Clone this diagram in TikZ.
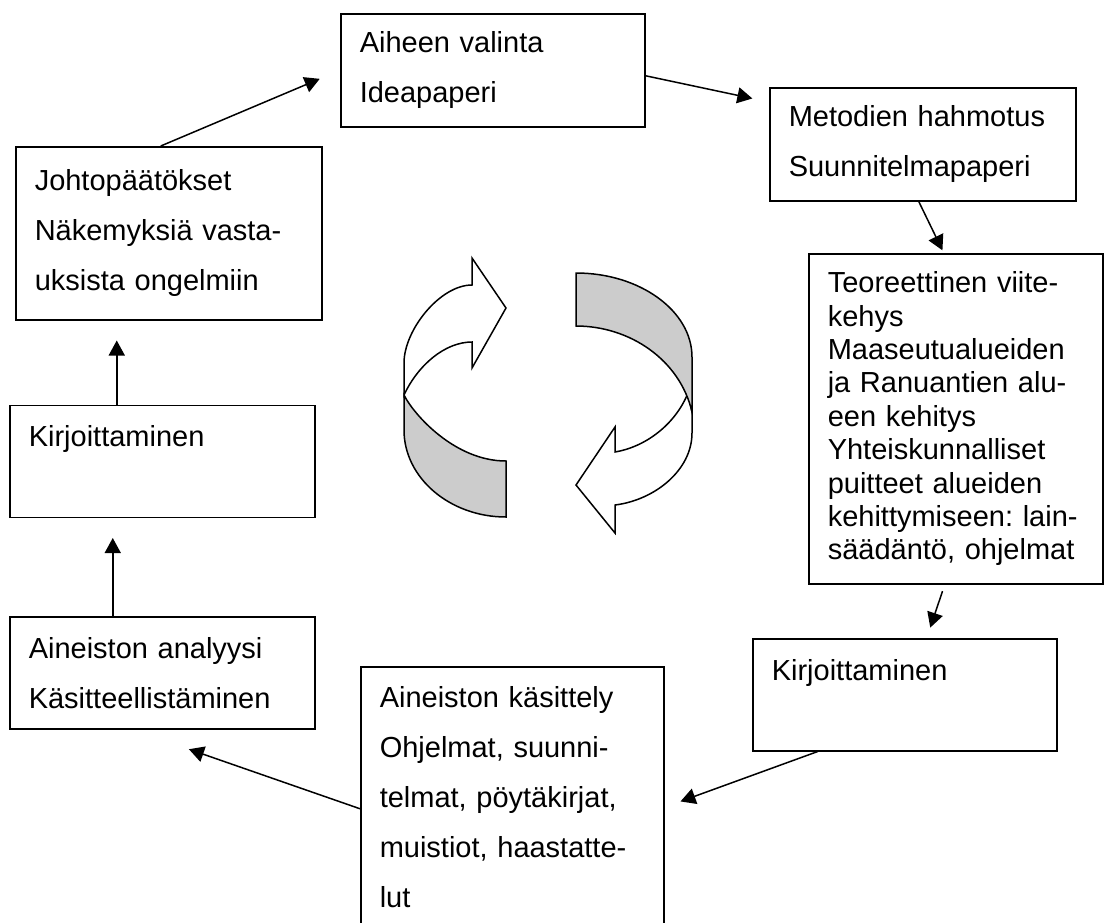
\documentclass[tikz,border=0pt]{standalone}
\usepackage{fontspec}
\setmainfont{Liberation Sans}
\usetikzlibrary{arrows.meta, positioning}
\frenchspacing

\begin{document}
\begin{tikzpicture}[
    x=1pt, y=-1pt,
    every node/.style={font=\fontsize{29}{50}\selectfont},
    stage/.style={rectangle, draw, line width=1.5pt, align=left, inner xsep=19pt, inner ysep=0pt, anchor=north west},
    arrow/.style={-{Triangle[length=15pt, width=16pt]}, line width=1.5pt},
    band/.style={line width=1.5pt, fill=gray!40},
    face/.style={line width=1.5pt, fill=white}
]
\useasboundingbox (0,0) rectangle (1104,922);
\clip (0,0) rectangle (1104,922);
\node[stage, text width=266pt, minimum height=113pt] (aiheen) at (340,13) {Aiheen valinta\\Ideapaperi};
\node[stage, text width=268pt, minimum height=113pt] (metodien) at (769,87) {Metodien hahmotus\\Suunnitelmapaperi};
\node[stage, text width=256pt, minimum height=330pt, font=\fontsize{29}{33.4}\selectfont] (teor) at (808,253) {Teoreettinen viite-\\kehys\\Maaseutualueiden\\ja Ranuantien alu-\\een kehitys\\Yhteiskunnalliset\\puitteet alueiden\\kehittymiseen: lain-\\säädäntö, ohjelmat};
\node[stage, text width=266pt, minimum height=112pt] (kirjR) at (752,638) {Kirjoittaminen\\~};
\node[stage, text width=265pt, minimum height=261pt] (kasittely) at (360,666) {Aineiston käsittely\\Ohjelmat, suunni-\\telmat, pöytäkirjat,\\muistiot, haastatte-\\lut};
\node[stage, text width=267pt, minimum height=112pt] (analyysi) at (9,616) {Aineiston analyysi\\Käsitteellistäminen};
\node[stage, text width=267pt, minimum height=112pt, above=98pt of analyysi] (kirjL) {Kirjoittaminen\\~};
\node[stage, text width=268pt, minimum height=173pt, above=84pt of kirjL, xshift=6.5pt] (johto) {Johtopäätökset\\Näkemyksiä vasta-\\uksista ongelmiin};

\draw[arrow, shorten >=22pt] ([xshift=-8pt]johto.north) -- (aiheen.west);
\draw[arrow, shorten >=17pt] ([yshift=-5.5pt]aiheen.east) -- ([yshift=-15pt]metodien.north west);
\draw[arrow, shorten >=3pt] ([xshift=-4pt]metodien.south) -- ([xshift=-12pt]teor.north);
\draw[arrow, shorten <=7pt, shorten >=11pt] ([xshift=-11pt]teor.south) -- ([xshift=22pt]kirjR.north);
\draw[arrow, shorten >=17pt] ([xshift=-87pt]kirjR.south) -- ([yshift=-10pt]kasittely.east);
\draw[arrow, shorten >=60pt] ([yshift=-11.5pt]kasittely.west) -- ([xshift=-30pt]analyysi.south);
\draw[arrow, shorten >=20pt] ([xshift=-49.5pt]analyysi.north) -- ([xshift=-49.5pt]kirjL.south);
\draw[arrow, shorten >=20pt] ([xshift=-45.5pt]kirjL.north) -- ([xshift=-52pt]johto.south);

% kiertonuolet
\filldraw[band] (404,395) -- (404,430) .. controls (404,478) and (450,517) .. (506,517) -- (506,461) .. controls (455,461) and (414,415) .. cycle;
\filldraw[face] (404,395) .. controls (418,365) and (445,342) .. (472,342) -- (472,368) -- (506,308) -- (472,258) -- (472,285) .. controls (440,285) and (404,330) .. (404,363) -- cycle;
\filldraw[face] (688,393) .. controls (675,425) and (645,447) .. (615,452) -- (615,427) -- (576,485) -- (615,533) -- (615,505) .. controls (655,500) and (692,470) .. (692,433) -- (692,412) -- cycle;
\filldraw[band] (576,273) .. controls (640,273) and (692,311) .. (692,357) -- (692,412) .. controls (680,360) and (630,326) .. (576,326) -- cycle;
\end{tikzpicture}
\end{document}
